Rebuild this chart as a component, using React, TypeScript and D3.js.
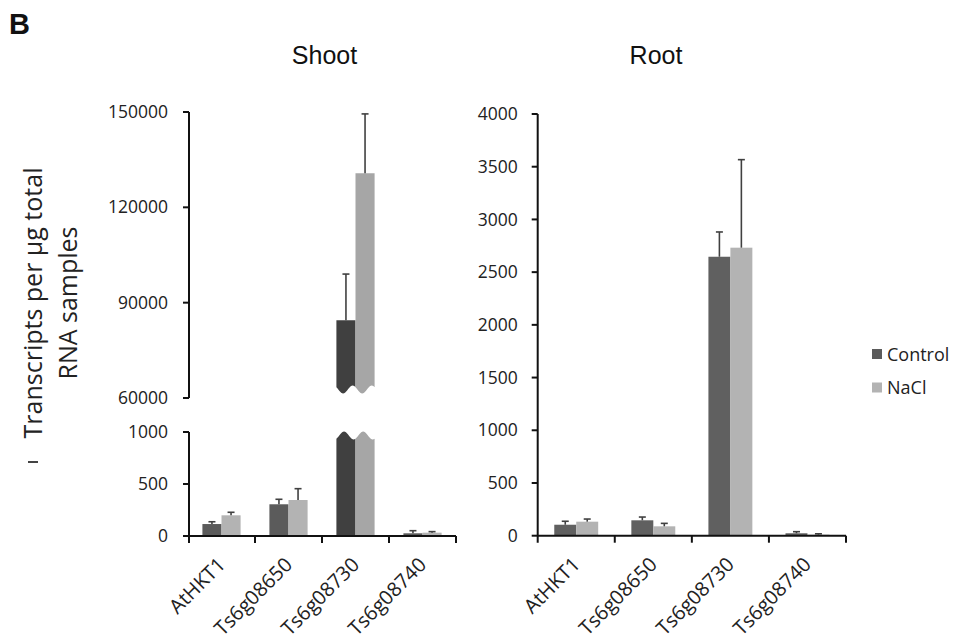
import React from "react";
import * as d3 from "d3";

const categories = ["AtHKT1", "Ts6g08650", "Ts6g08730", "Ts6g08740"];
const seriesNames = ["Control", "NaCl"];

// Shoot
const shootControl = [115, 305, 84500, 26];
const shootControlErr = [22, 48, 14500, 25];
const shootNaCl = [199, 346, 130700, 32];
const shootNaClErr = [29, 109, 18700, 10];
const shootUpperTicks = [60000, 90000, 120000, 150000];
const shootLowerTicks = [0, 500, 1000];

// Root
const rootControl = [104, 146, 2646, 23];
const rootControlErr = [33, 31, 235, 15];
const rootNaCl = [133, 89, 2732, 10];
const rootNaClErr = [25, 28, 835, 8];
const rootTicks = [0, 500, 1000, 1500, 2000, 2500, 3000, 3500, 4000];

const COL_CTRL = "#5b5b5b";
const COL_NACL = "#b3b3b3";
const COL_CTRL_BROKEN = "#404040";
const COL_NACL_BROKEN = "#a6a6a6";
const ERR_COL = "#404040";
const FONT = "'Open Sans', sans-serif";

function waveY(mid: number, amp: number, phase: number, t: number) {
  return mid - amp * Math.sin(2 * Math.PI * (t - phase));
}

function lowerPiece(x0: number, w: number, bottom: number, mid: number) {
  const n = 20;
  let d = `M${x0},${bottom}`;
  for (let i = 0; i <= n; i++) {
    const t = i / n;
    d += ` L${x0 + w * t},${waveY(mid, 4, 0.15, t)}`;
  }
  d += ` L${x0 + w},${bottom} Z`;
  return d;
}

function upperPiece(x0: number, w: number, top: number, mid: number) {
  const n = 20;
  let d = `M${x0},${top} L${x0 + w},${top}`;
  for (let i = n; i >= 0; i--) {
    const t = i / n;
    d += ` L${x0 + w * t},${waveY(mid, 4, 0.6, t)}`;
  }
  d += " Z";
  return d;
}

function ErrBar({ x, y1, y2 }: { x: number; y1: number; y2: number }) {
  return (
    <g stroke={ERR_COL} strokeWidth={1.6}>
      <line x1={x} x2={x} y1={y1} y2={y2} />
      <line x1={x - 3.5} x2={x + 3.5} y1={y2} y2={y2} />
    </g>
  );
}

function XLabels({ x, y0 }: { x: d3.ScaleBand<string>; y0: number }) {
  return (
    <g fontFamily={FONT} fontSize={20} fill="#222">
      {categories.map((c) => {
        const cx = (x(c) as number) + x.bandwidth() / 2 + 5;
        const cy = y0 + 30;
        return (
          <text key={c} transform={`translate(${cx},${cy}) rotate(-45)`} textAnchor="end">
            {c}
          </text>
        );
      })}
    </g>
  );
}

function ShootPanel() {
  const x = d3.scaleBand<string>().domain(categories).range([188, 456]);
  const yU = d3.scaleLinear().domain([60000, 150000]).range([398, 112]);
  const yL = d3.scaleLinear().domain([0, 1000]).range([536, 432]);
  const axisX = 189;
  const bw = x.bandwidth() * 0.285;
  const series = [
    { v: shootControl, e: shootControlErr, c: COL_CTRL, cb: COL_CTRL_BROKEN },
    { v: shootNaCl, e: shootNaClErr, c: COL_NACL, cb: COL_NACL_BROKEN },
  ];
  const lowMax = yL.domain()[1];
  return (
    <g>
      {categories.map((cat, i) => {
        const center = (x(cat) as number) + x.bandwidth() / 2;
        return series.map((s, k) => {
          const x0 = center - bw + k * bw;
          const v = s.v[i];
          const top = v + s.e[i];
          const ex = x0 + bw / 2;
          if (v > lowMax) {
            return (
              <g key={cat + k}>
                <path d={lowerPiece(x0, bw, yL(0), yL(lowMax) + 3.5)} fill={s.cb} />
                <path d={upperPiece(x0, bw, yU(v), yU(60000) - 8.5)} fill={s.cb} />
                <ErrBar x={ex} y1={yU(v)} y2={yU(top)} />
              </g>
            );
          }
          return (
            <g key={cat + k}>
              <rect x={x0} y={yL(v)} width={bw} height={yL(0) - yL(v)} fill={s.c} />
              <ErrBar x={ex} y1={yL(v)} y2={yL(top)} />
            </g>
          );
        });
      })}
      <g stroke="#111" strokeWidth={2} fill="none">
        <line x1={axisX} x2={axisX} y1={yU(150000)} y2={yU(60000)} />
        {shootUpperTicks.map((t) => (
          <line key={t} x1={axisX - 6} x2={axisX} y1={yU(t)} y2={yU(t)} />
        ))}
        <line x1={axisX} x2={axisX} y1={yL(1000)} y2={yL(0) + 7} />
        {shootLowerTicks.map((t) => (
          <line key={t} x1={axisX - 6} x2={axisX} y1={yL(t)} y2={yL(t)} />
        ))}
        <line x1={x.range()[0]} x2={x.range()[1]} y1={yL(0)} y2={yL(0)} />
        {categories.map((c) => (
          <line key={c} x1={(x(c) as number) + x.bandwidth()} x2={(x(c) as number) + x.bandwidth()} y1={yL(0)} y2={yL(0) + 7} />
        ))}
      </g>
      <g fontFamily={FONT} fontSize={17.5} fill="#222" textAnchor="end">
        {shootUpperTicks.map((t) => (
          <text key={t} x={axisX - 21} y={yU(t)} dy="0.35em">{t}</text>
        ))}
        {shootLowerTicks.map((t) => (
          <text key={t} x={axisX - 21} y={yL(t)} dy="0.35em">{t}</text>
        ))}
      </g>
      <XLabels x={x} y0={yL(0)} />
      <text x={324.5} y={64} textAnchor="middle" fontFamily="'Liberation Sans', Arial, sans-serif" fontSize={25} fill="#111">Shoot</text>
    </g>
  );
}

function RootPanel() {
  const x = d3.scaleBand<string>().domain(categories).range([537.7, 846]);
  const y = d3.scaleLinear().domain([0, 4000]).range([535.7, 114]);
  const axisX = 537.7;
  const bw = x.bandwidth() * 0.285;
  const series = [
    { v: rootControl, e: rootControlErr, c: "#606060" },
    { v: rootNaCl, e: rootNaClErr, c: COL_NACL },
  ];
  return (
    <g>
      {categories.map((cat, i) => {
        const center = (x(cat) as number) + x.bandwidth() / 2;
        return series.map((s, k) => {
          const x0 = center - bw + k * bw;
          const v = s.v[i];
          const top = v + s.e[i];
          return (
            <g key={cat + k}>
              <rect x={x0} y={y(v)} width={bw} height={y(0) - y(v)} fill={s.c} />
              <ErrBar x={x0 + bw / 2} y1={y(v)} y2={y(top)} />
            </g>
          );
        });
      })}
      <g stroke="#111" strokeWidth={2} fill="none">
        <line x1={axisX} x2={axisX} y1={y(4000)} y2={y(0) + 7} />
        {rootTicks.map((t) => (
          <line key={t} x1={axisX - 6} x2={axisX} y1={y(t)} y2={y(t)} />
        ))}
        <line x1={x.range()[0]} x2={x.range()[1]} y1={y(0)} y2={y(0)} />
        {categories.map((c) => (
          <line key={c} x1={(x(c) as number) + x.bandwidth()} x2={(x(c) as number) + x.bandwidth()} y1={y(0)} y2={y(0) + 7} />
        ))}
      </g>
      <g fontFamily={FONT} fontSize={17.5} fill="#222" textAnchor="end">
        {rootTicks.map((t) => (
          <text key={t} x={axisX - 20} y={y(t)} dy="0.35em">{t}</text>
        ))}
      </g>
      <XLabels x={x} y0={y(0)} />
      <text x={656} y={64} textAnchor="middle" fontFamily="'Liberation Sans', Arial, sans-serif" fontSize={25} fill="#111">Root</text>
    </g>
  );
}

function Legend() {
  const colors = [COL_CTRL, COL_NACL];
  return (
    <g fontFamily={FONT} fontSize={18} fill="#222">
      {seriesNames.map((n, i) => (
        <g key={n} transform={`translate(872,${349 + i * 33.5})`}>
          <rect x={0} y={0} width={10} height={10} fill={colors[i]} />
          <text x={15} y={11.5}>{n}</text>
        </g>
      ))}
    </g>
  );
}

export default function App() {
  return (
    <svg width={953} height={641} style={{ position: "absolute", left: 0, top: 0, background: "#fff" }}>
      <rect width={953} height={641} fill="#fff" />
      <text x={9} y={34} fontFamily="'Liberation Sans', Arial, sans-serif" fontWeight="bold" fontSize={29} fill="#111">B</text>
      <g fontFamily={FONT} fontSize={25} fill="#222" textAnchor="middle">
        <text transform="translate(41.5,303) rotate(-90)">Transcripts per µg total</text>
        <text transform="translate(77,303) rotate(-90)">RNA samples</text>
      </g>
      <line x1={28} x2={38} y1={462} y2={462} stroke="#444" strokeWidth={2} />
      <ShootPanel />
      <RootPanel />
      <Legend />
    </svg>
  );
}
